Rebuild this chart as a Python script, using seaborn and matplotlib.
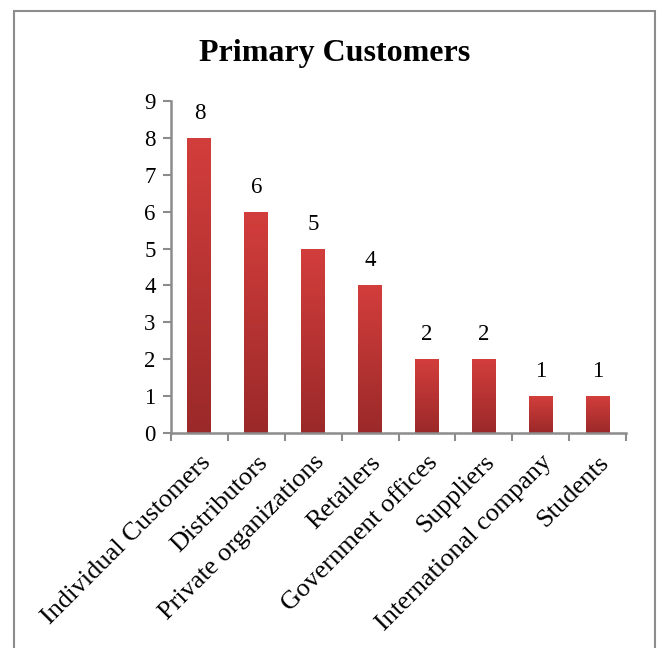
import numpy as np
import pandas as pd
import matplotlib
matplotlib.use("Agg")
import matplotlib.pyplot as plt
import matplotlib.transforms as mtransforms
import seaborn as sns
from matplotlib.colors import LinearSegmentedColormap
from matplotlib.patches import Rectangle

categories = ["Individual Customers", "Distributors", "Private organizations",
              "Retailers", "Government offices", "Suppliers",
              "International company", "Students"]
counts = [8, 6, 5, 4, 2, 2, 1, 1]
title = "Primary Customers"

df = pd.DataFrame({"customer": categories, "count": counts})

sns.set_style("white")
plt.rcParams["font.family"] = ["Liberation Serif", "DejaVu Serif"]
plt.rcParams["text.color"] = "black"
plt.rcParams["xtick.labelcolor"] = "black"
plt.rcParams["ytick.labelcolor"] = "black"

fig = plt.figure(figsize=(6.62, 6.48), dpi=100)
ax = fig.add_axes([171 / 662, 1 - 433 / 648, 455 / 662, 332 / 648])

sns.barplot(data=df, x="customer", y="count", color="#c83636",
            width=0.42, ax=ax)

# vertical red gradient inside each bar, dark at the base
grad = LinearSegmentedColormap.from_list("bar", ["#9b2929", "#d23e3c"])
for bar in ax.patches:
    x0, y0 = bar.get_x(), bar.get_y()
    w, h = bar.get_width(), bar.get_height()
    img = ax.imshow(np.linspace(0, 1, 100).reshape(-1, 1), cmap=grad,
                    extent=[x0, x0 + w, y0, y0 + h], origin="lower",
                    aspect="auto", zorder=bar.get_zorder())
    img.set_clip_path(bar)
    bar.set_facecolor("none")
    ax.text(x0 + w / 2, h + 0.38, str(int(h)), ha="center", va="bottom",
            fontsize=16.5)

ax.set_xlim(-0.5, len(categories) - 0.5)
ax.set_ylim(0, 9)
ax.set_yticks(range(0, 10))
ax.set_xlabel("")
ax.set_ylabel("")

ax.set_xticks(np.arange(len(categories)))
ax.set_xticklabels(categories, rotation=45, ha="right",
                   rotation_mode="anchor", fontsize=19)
# nudge the slanted labels a little to the left
shift = mtransforms.ScaledTranslation(-5 / 100, -2 / 100, fig.dpi_scale_trans)
for lab in ax.get_xticklabels():
    lab.set_transform(lab.get_transform() + shift)
ax.set_xticks(np.arange(-0.5, len(categories)), minor=True)
ax.tick_params(axis="x", which="major", length=0, pad=13)
ax.tick_params(axis="x", which="minor", length=6, width=1.5,
               color="#8c8c8c", direction="out", bottom=True)
ax.tick_params(axis="y", length=6, width=1.5, color="#8c8c8c",
               direction="out", left=True, labelsize=16.5, pad=5)

for side in ["top", "right"]:
    ax.spines[side].set_visible(False)
for side in ["left", "bottom"]:
    ax.spines[side].set_color("#8c8c8c")
    ax.spines[side].set_linewidth(1.8)

fig.text(335 / 662, 1 - 54 / 648, title, ha="center", va="center",
         fontsize=23, fontweight="bold")

# chart frame
fig.patches.append(Rectangle((14 / 662, -0.1), (655 - 14) / 662, 1.1 - 11 / 648,
                             transform=fig.transFigure, fill=False,
                             edgecolor="#8c8c8c", linewidth=1.5))

fig.savefig("out.png", dpi=100)
